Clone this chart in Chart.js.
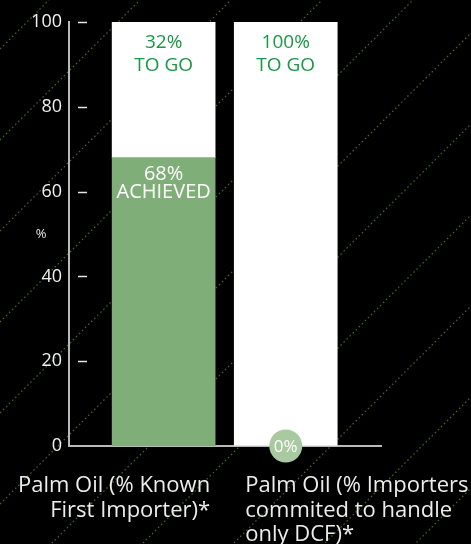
<!DOCTYPE html>
<html lang="en">
  <head>
    <meta charset="UTF-8" />
    <meta name="viewport" content="width=device-width, initial-scale=1.0" />
    <script src="https://cdn.jsdelivr.net/npm/chart.js@4.4.0/dist/chart.umd.min.js"></script>
    <title>Palm Oil</title>
    <style>
      html, body { margin: 0; padding: 0; background: #000; }
    </style>
  </head>
  <body>
    <canvas id="chart" width="471" height="544"></canvas>

    <script>
      // data
      const categories = [
        ["Palm Oil (% Known", "First Importer)*"],
        ["Palm Oil (% Importers", "commited to handle", "only DCF)*"],
      ];
      const achieved = [68, 0];
      const toGo = [32, 100];
      const yTicks = [0, 20, 40, 60, 80, 100];

      const FONT = "'Open Sans', 'DejaVu Sans', sans-serif";
      const GREEN_BAR = "#80ae79";
      const GREEN_TEXT = "#1a9645";

      // dotted diagonal lines behind everything
      const backdrop = {
        id: "backdrop",
        beforeDraw(chart) {
          const { ctx, width, height } = chart;
          ctx.save();
          ctx.fillStyle = "#000";
          ctx.fillRect(0, 0, width, height);
          ctx.strokeStyle = "#3d6a1c";
          ctx.lineWidth = 1.3;
          ctx.setLineDash([1.5, 2.8]);
          for (let c = 49; c < width + height; c += 91) {
            ctx.beginPath();
            ctx.moveTo(0, c);
            ctx.lineTo(c, 0);
            ctx.stroke();
          }
          ctx.restore();
        },
      };

      // value labels, tick dashes, axis unit and category names
      const overlay = {
        id: "overlay",
        afterDraw(chart) {
          const { ctx, chartArea } = chart;
          const y = chart.scales.y;
          const x = chart.scales.x;
          ctx.save();

          // short dashes inside the plot next to the axis
          ctx.strokeStyle = "#e6e6e6";
          ctx.lineWidth = 1.5;
          yTicks.forEach((v) => {
            if (v === 0) return;
            const py = Math.round(y.getPixelForValue(v)) + 0.5;
            ctx.beginPath();
            ctx.moveTo(chartArea.left + 9, py);
            ctx.lineTo(chartArea.left + 18, py);
            ctx.stroke();
          });

          // unit
          ctx.fillStyle = "#e6e6e6";
          ctx.font = "13px " + FONT;
          ctx.textAlign = "center";
          ctx.textBaseline = "middle";
          ctx.fillText("%", 41, (chartArea.top + chartArea.bottom) / 2);

          const done = chart.getDatasetMeta(0).data;
          const rest = chart.getDatasetMeta(1).data;
          ctx.textBaseline = "alphabetic";
          ctx.font = "19px " + FONT;

          // remaining share at the top of each bar
          rest.forEach((el, i) => {
            ctx.fillStyle = GREEN_TEXT;
            ctx.fillText(toGo[i] + "%", el.x, el.y + 26);
            ctx.fillText("TO GO", el.x, el.y + 49);
          });

          // achieved share
          done.forEach((el, i) => {
            if (achieved[i] > 0) {
              ctx.fillStyle = "#ffffff";
              ctx.font = "20px " + FONT;
              ctx.fillText(achieved[i] + "%", el.x, el.y + 22);
              ctx.fillText("ACHIEVED", el.x, el.y + 40);
            } else {
              ctx.fillStyle = "#a9c9a0";
              ctx.beginPath();
              ctx.arc(el.x, el.y, 16.5, 0, Math.PI * 2);
              ctx.fill();
              ctx.fillStyle = "#ffffff";
              ctx.font = "17px " + FONT;
              ctx.textBaseline = "middle";
              ctx.fillText(achieved[i] + "%", el.x, el.y + 1);
              ctx.textBaseline = "alphabetic";
            }
          });

          // category names under the axis
          ctx.fillStyle = "#ececec";
          ctx.font = "22px " + FONT;
          categories.forEach((lines, i) => {
            const cx = x.getPixelForValue(i);
            let tx;
            if (i === 0) {
              ctx.textAlign = "right";
              tx = cx + 46.5;
            } else {
              ctx.textAlign = "left";
              tx = cx - 40.5;
            }
            lines.forEach((t, j) => {
              ctx.fillText(t, tx, chartArea.bottom + 46 + j * 24.5);
            });
          });

          ctx.restore();
        },
      };

      const ctx = document.getElementById("chart").getContext("2d");
      const myChart = new Chart(ctx, {
        type: "bar",
        data: {
          datasets: [
            {
              label: "Achieved",
              data: achieved.map((v, i) => ({ x: i, y: v })),
              backgroundColor: GREEN_BAR,
              stack: "s",
              barThickness: 103,
            },
            {
              label: "To go",
              data: toGo.map((v, i) => ({ x: i, y: v })),
              backgroundColor: "#ffffff",
              stack: "s",
              barThickness: 103,
            },
          ],
        },
        options: {
          responsive: false,
          animation: false,
          devicePixelRatio: 1,
          layout: { padding: { left: 0, right: 90, top: 22, bottom: 0 } },
          plugins: {
            legend: { display: false },
            tooltip: { enabled: false },
          },
          scales: {
            x: {
              type: "linear",
              min: -0.775,
              max: 1.78,
              offset: false,
              grid: { display: false, drawTicks: false, offset: false },
              ticks: { display: false },
              border: { color: "#b9b9b9", width: 2 },
              afterFit: (s) => { s.height = 98; },
            },
            y: {
              stacked: true,
              min: 0,
              max: 100,
              afterBuildTicks: (s) => { s.ticks = yTicks.map((v) => ({ value: v })); },
              grid: { display: false, drawTicks: false },
              border: { color: "#b9b9b9", width: 2 },
              ticks: {
                color: "#f0f0f0",
                padding: 7,
                font: { family: FONT, size: 18 },
              },
              afterFit: (s) => { s.width = 69; },
            },
          },
        },
        plugins: [backdrop, overlay],
      });
    </script>
  </body>
</html>
